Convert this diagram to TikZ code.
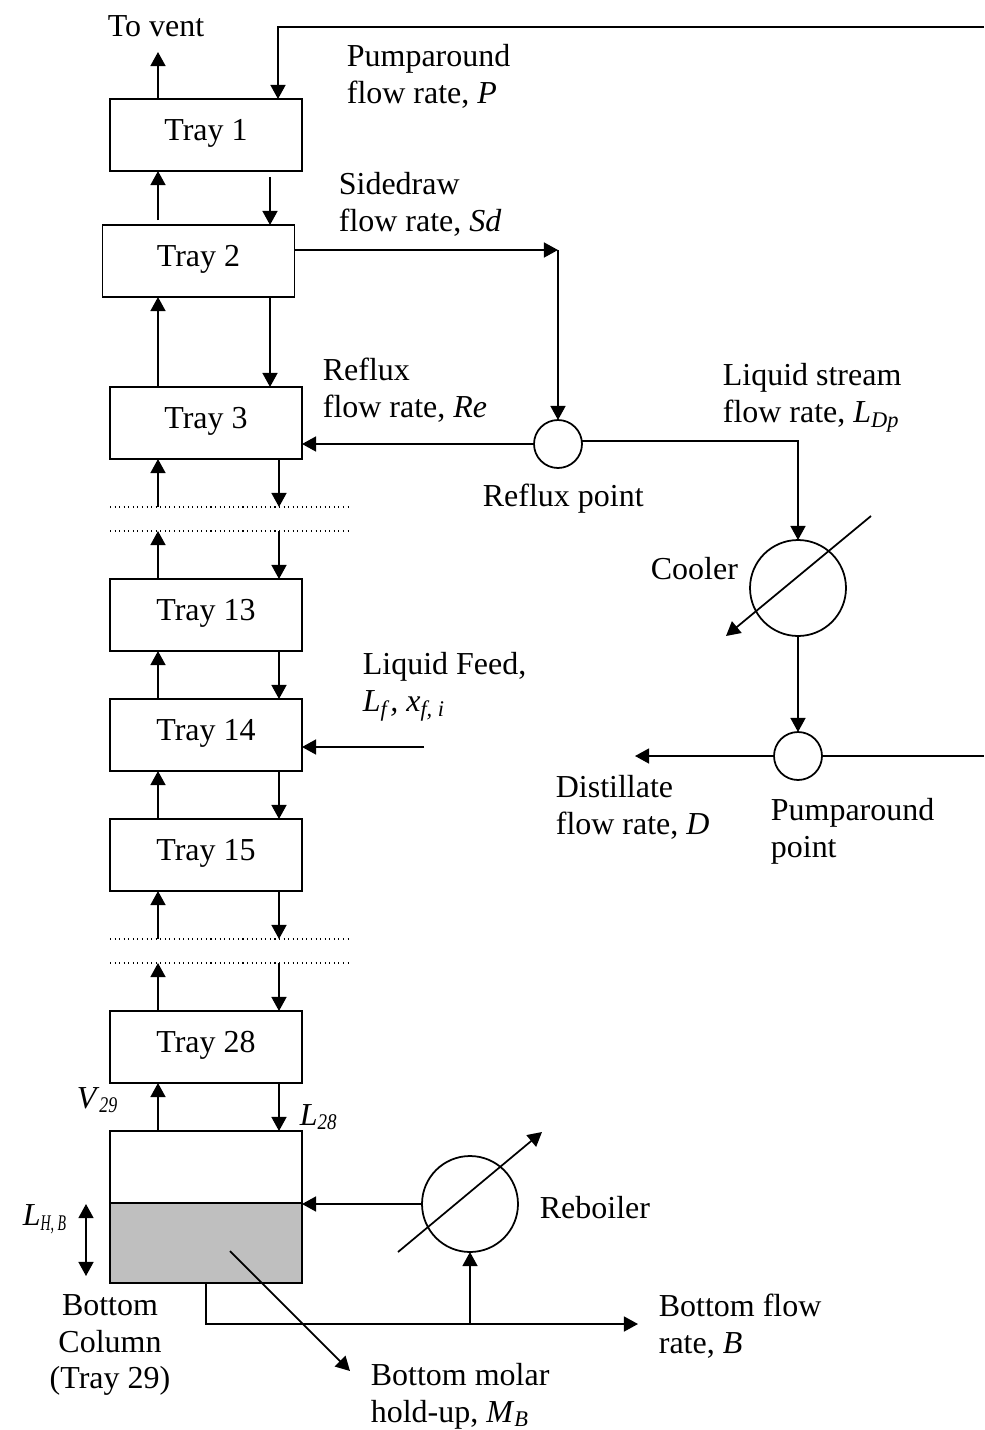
\documentclass[tikz,border=0pt]{standalone}
\usepackage{fontspec}
\setmainfont{Liberation Serif}
\usetikzlibrary{arrows.meta,positioning,calc}
\definecolor{liquidgray}{RGB}{191,191,191}
\newcommand{\subi}[1]{\textsubscript{\textit{#1}}}
\newcommand{\subn}[2]{\textsubscript{\scalebox{#1}[1]{\textit{#2}}}}

\begin{document}
\begin{tikzpicture}[
  x=0.02cm,y=-0.02cm,
  line width=1pt,
  tray/.style={rectangle,draw,inner sep=0pt,outer sep=0pt,font=\fontsize{18.2}{21}\selectfont,
               minimum width=3.84cm,minimum height=1.44cm,text depth=5.7pt},
  pnt/.style={circle,draw,inner sep=0pt,outer sep=0pt,minimum size=0.96cm},
  hex/.style={circle,draw,inner sep=0pt,outer sep=0pt,minimum size=1.92cm},
  arr/.style={-{Triangle[length=8pt,width=8.5pt]}},
  dots/.style={dotted,line width=0.6pt},
  lbl/.style={font=\fontsize{18.2}{21}\selectfont,align=left,anchor=west,inner sep=0pt}
]
\useasboundingbox (0,0) rectangle (984,1430);

% Column
\node[tray] (t1) at (206,135) {Tray 1};
\node[tray] (t2) at (198.5,261) {Tray 2};
\node[tray] (t3) at (206,423) {Tray 3};
\node[tray] (t13) at (206,615) {Tray 13};
\node[tray] (t14) at (206,735) {Tray 14};
\node[tray] (t15) at (206,855) {Tray 15};
\node[tray] (t28) at (206,1047) {Tray 28};
\node[tray] (top) at (206,1167) {};
\node[tray,fill=liquidgray,minimum height=1.6cm] (liq) at (206,1243) {};

% Helper columns and free ends
\coordinate (up) at (158,0);
\coordinate (dna) at (270,0);
\coordinate (dnb) at (279,0);
\coordinate (vent) at (158,52);
\coordinate (gapa) at (110,507);
\coordinate (gapae) at (348,507);
\coordinate (gapb) at (110,531);
\coordinate (gapbe) at (348,531);
\coordinate (gapc) at (110,939);
\coordinate (gapce) at (348,939);
\coordinate (gapd) at (110,963);
\coordinate (gapde) at (348,963);

\draw[dots] (gapa) -- (gapae);
\draw[dots] (gapb) -- (gapbe);
\draw[dots] (gapc) -- (gapce);
\draw[dots] (gapd) -- (gapde);

% Vapour and liquid between trays
\draw[arr] (t1.north -| up) -- (vent);
\draw[arr] ($(t2.north -| up)+(0,-5)$) -- (t1.south -| up);
\draw[arr] ($(t1.south -| dna)+(0,6)$) -- (t2.north -| dna);
\draw[arr] (t3.north -| up) -- (t2.south -| up);
\draw[arr] (t2.south -| dna) -- (t3.north -| dna);
\draw[arr] (gapa -| up) -- (t3.south -| up);
\draw[arr] (t3.south -| dnb) -- (gapa -| dnb);
\draw[arr] (t13.north -| up) -- (gapb -| up);
\draw[arr] (gapb -| dnb) -- (t13.north -| dnb);
\draw[arr] (t14.north -| up) -- (t13.south -| up);
\draw[arr] (t13.south -| dnb) -- (t14.north -| dnb);
\draw[arr] (t15.north -| up) -- (t14.south -| up);
\draw[arr] (t14.south -| dnb) -- (t15.north -| dnb);
\draw[arr] (gapc -| up) -- (t15.south -| up);
\draw[arr] (t15.south -| dnb) -- (gapc -| dnb);
\draw[arr] (t28.north -| up) -- (gapd -| up);
\draw[arr] (gapd -| dnb) -- (t28.north -| dnb);
\draw[arr] (top.north -| up) -- (t28.south -| up);
\draw[arr] (t28.south -| dnb) -- (top.north -| dnb);

% Pumparound and sidedraw loop
\node[pnt] (refl) at (558,444) {};
\node[hex] (cool) at (798,588) {};
\node[pnt] (pump) at (798,756) {};
\coordinate (sd) at (558,250);
\coordinate (ldp) at (798,441);
\coordinate (painl) at (984,27);
\coordinate (pacor) at (278,27);
\coordinate (paout) at (984,756);
\coordinate (dist) at (635,756);
\coordinate (coola) at (871,516);
\coordinate (coolb) at (726,636);
\coordinate (feed) at (424,747);

\draw[arr] (painl) -- (pacor) -- (pacor |- t1.north);
\draw[arr] (t2.east |- sd) -- (sd);
\draw[arr] (sd) -- (refl.north);
\draw[arr] (refl.west) -- (t3.east |- refl);
\draw[arr] (refl.east |- ldp) -- (ldp) -- (cool.north);
\draw[arr] (coola) -- (coolb);
\draw[arr] (cool.south) -- (pump.north);
\draw[arr] (pump.west) -- (dist);
\draw (pump.east) -- (paout);
\draw[arr] (feed) -- (t14.east |- feed);

% Reboiler and bottoms
\node[hex] (reb) at (470,1204) {};
\coordinate (reba) at (398,1252);
\coordinate (rebb) at (542,1132);
\coordinate (bcor) at (206,1324);
\coordinate (bout) at (638,1324);
\coordinate (bbr) at (470,1324);
\coordinate (lhtop) at (86,1204);
\coordinate (lhbot) at (86,1276);
\coordinate (hold) at (230,1251);
\coordinate (holde) at (350,1371);

\draw[arr] (reb.west) -- (top.south east |- reb);
\draw[arr] (reba) -- (rebb);
\draw[arr] (liq.south) -- (bcor) -- (bout);
\draw[arr] (bbr) -- (reb.south);
\draw[{Triangle[length=8pt,width=8.5pt]}-{Triangle[length=8pt,width=8.5pt]}] (lhtop) -- (lhbot);
\draw[arr] (hold) -- (holde);

% Labels
\node[lbl] (lvent) at (107,26) {To vent};
\node[lbl] (lpa) at (346,76) {Pumparound\\flow rate, \textit{P}};
\node[lbl] (lsd) at (338,204) {Sidedraw\\flow rate, \textit{Sd}};
\node[lbl] (lre) at (322,390) {Reflux\\flow rate, \textit{Re}};
\node[lbl] (lld) at (722,398) {Liquid stream\\flow rate, \textit{L}\subi{Dp}};
\node[lbl] (lrp) at (482,499) {Reflux point};
\node[lbl] (lco) at (650,569) {Cooler};
\node[lbl] (lfe) at (362,687) {Liquid Feed,\\\textit{L}\subi{f}\textit{, x}\subi{f, i}};
\node[lbl] (ldi) at (555,807) {Distillate\\flow rate, \textit{D}};
\node[lbl] (lpp) at (770,831) {Pumparound\\point};
\node[lbl] (lv) at (76,1100) {\textit{V}\subn{0.8}{29}};
\node[lbl] (ll) at (299,1117) {\textit{L}\subn{0.85}{28}};
\node[lbl] (llh) at (22,1219) {\textit{L}\subn{0.62}{H, B}};
\node[lbl,align=center,anchor=center] (lbc) at (110,1345) {Bottom\\Column\\(Tray 29)};
\node[lbl] (lrb) at (539,1208) {Reboiler};
\node[lbl] (lbf) at (658,1326) {Bottom flow\\rate, \textit{B}};
\node[lbl] (lbm) at (370,1396) {Bottom molar\\hold-up, \textit{M}\subi{B}};
\end{tikzpicture}
\end{document}
